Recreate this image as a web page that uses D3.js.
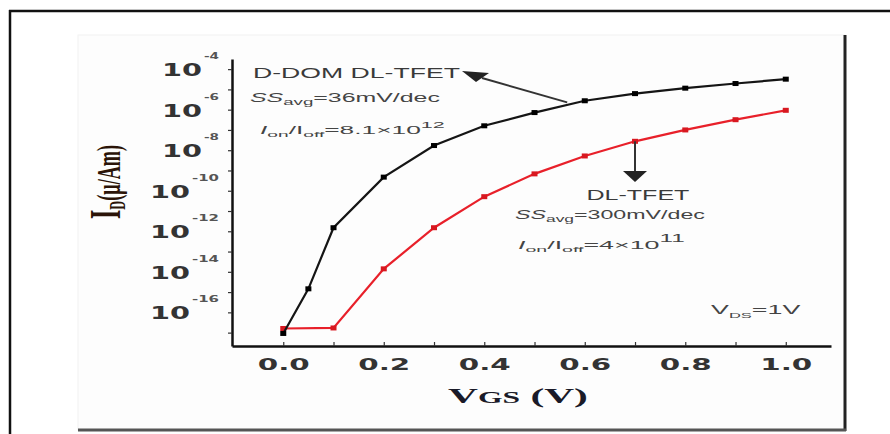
<!DOCTYPE html>
<html><head><meta charset="utf-8">
<script src="https://cdn.jsdelivr.net/npm/d3@7"></script>
<style>body{margin:0;background:#fff}svg{display:block}</style>
</head><body>
<svg id="chart" width="890" height="434"></svg>
<script>
// ---- data ----
const vgsBlack = [0, 0.05, 0.1, 0.2, 0.3, 0.4, 0.5, 0.6, 0.7, 0.8, 0.9, 1.0];
const idBlack  = [9.1e-18, 1.45e-15, 1.5e-12, 4.7e-10, 1.7e-8, 1.6e-7, 7.2e-7, 2.75e-6, 6.2e-6, 1.15e-5, 1.95e-5, 3.2e-5];
const vgsRed   = [0, 0.1, 0.2, 0.3, 0.4, 0.5, 0.6, 0.7, 0.8, 0.9, 1.0];
const idRed    = [1.6e-17, 1.7e-17, 1.4e-14, 1.5e-12, 5.1e-11, 6.8e-10, 5.2e-9, 2.75e-8, 1.0e-7, 3.2e-7, 9.3e-7];
const xTickValues = [0, 0.1, 0.2, 0.3, 0.4, 0.5, 0.6, 0.7, 0.8, 0.9, 1.0];
const xTickLabels = ["0.0", "", "0.2", "", "0.4", "", "0.6", "", "0.8", "", "1.0"];
const yLabelExponents = [-4, -6, -8, -10, -12, -14, -16];
const yTickExponents = [-4, -5, -6, -7, -8, -9, -10, -11, -12, -13, -14, -15, -16, -17];

const svg = d3.select("#chart");

// frame
svg.append("rect").attr("x", 78).attr("y", 35).attr("width", 767).attr("height", 395)
  .attr("fill", "#fdfdfd").attr("stroke", "#f2f2f2");
svg.append("line").attr("x1", 9).attr("x2", 890).attr("y1", 11).attr("y2", 11)
  .attr("stroke", "#111").attr("stroke-width", 2.5);
svg.append("line").attr("x1", 10).attr("x2", 10).attr("y1", 10).attr("y2", 434)
  .attr("stroke", "#111").attr("stroke-width", 2.5);
svg.append("line").attr("x1", 845).attr("x2", 845).attr("y1", 35).attr("y2", 431)
  .attr("stroke", "#222").attr("stroke-width", 3);
svg.append("line").attr("x1", 78).attr("x2", 846).attr("y1", 430).attr("y2", 430)
  .attr("stroke", "#555").attr("stroke-width", 3);

// scales
const x = d3.scaleLinear().domain([-0.102, 1.09]).range([232, 831]);
const y = d3.scaleLog().domain([Math.pow(10, -17.66), Math.pow(10, -3.5)]).range([346, 59]);

// x axis
const gx = svg.append("g").attr("transform", "translate(0,346)")
  .call(d3.axisBottom(x).tickValues(xTickValues).tickSizeInner(-4).tickSizeOuter(0)
    .tickFormat((d, i) => xTickLabels[i]));
gx.select(".domain").attr("stroke", "#111").attr("stroke-width", 2.5);
gx.selectAll(".tick line").attr("stroke", "#333").attr("stroke-width", 1.2);
gx.selectAll(".tick text")
  .attr("font-family", "DejaVu Sans").attr("font-weight", "bold").attr("font-size", 15)
  .attr("fill", "#333").attr("y", 13)
  .filter(function () { return this.textContent !== ""; })
  .attr("textLength", 52).attr("lengthAdjust", "spacingAndGlyphs");

// y axis
const gy = svg.append("g").attr("transform", "translate(232,0)")
  .call(d3.axisLeft(y).tickValues(yTickExponents.map(e => Math.pow(10, e)))
    .tickSizeInner(4).tickSizeOuter(0).tickFormat(""));
gy.select(".domain").attr("stroke", "#111").attr("stroke-width", 2.5);
gy.selectAll(".tick line").attr("stroke", "#333").attr("stroke-width", 1.2);

// y tick labels: 10^e
const yl = svg.append("g");
yLabelExponents.forEach(e => {
  const yy = y(Math.pow(10, e));
  const supW = e <= -10 ? 27 : 15;
  yl.append("text").attr("x", 219).attr("y", yy - 10)
    .attr("text-anchor", "end").attr("font-family", "DejaVu Sans").attr("font-weight", "bold")
    .attr("font-size", 9).attr("fill", "#555").text("-" + (-e))
    .attr("textLength", supW).attr("lengthAdjust", "spacingAndGlyphs");
  yl.append("text").attr("x", 219 - supW - 2).attr("y", yy + 7)
    .attr("text-anchor", "end").attr("font-family", "DejaVu Sans").attr("font-weight", "bold")
    .attr("font-size", 18).attr("fill", "#333").text("10")
    .attr("textLength", 40).attr("lengthAdjust", "spacingAndGlyphs");
});

// lines
const line = d3.line().x(d => x(d[0])).y(d => y(d[1]));
const blackPts = vgsBlack.map((v, i) => [v, idBlack[i]]);
const redPts = vgsRed.map((v, i) => [v, idRed[i]]);
svg.append("path").datum(redPts).attr("d", line).attr("fill", "none")
  .attr("stroke", "#e8202a").attr("stroke-width", 2.2);
svg.selectAll(".mr").data(redPts).join("rect").attr("class", "mr")
  .attr("x", d => x(d[0]) - 3).attr("y", d => y(d[1]) - 2.5).attr("width", 6).attr("height", 5)
  .attr("fill", "#d81820");
svg.append("path").datum(blackPts).attr("d", line).attr("fill", "none")
  .attr("stroke", "#151515").attr("stroke-width", 2.2);
svg.selectAll(".mb").data(blackPts).join("rect").attr("class", "mb")
  .attr("x", d => x(d[0]) - 3).attr("y", d => y(d[1]) - 2.5).attr("width", 6).attr("height", 5)
  .attr("fill", "#000");

// helper: rich text fitted to width
function rich(parts, x0, base, width, anchor, opts) {
  opts = opts || {};
  const g = svg.append("g");
  const t = g.append("text").attr("x", 0).attr("y", 0)
    .attr("font-family", opts.family || "Liberation Sans")
    .attr("font-weight", opts.weight || "normal")
    .attr("font-size", opts.size || 13).attr("fill", opts.fill || "#444");
  let prev = 0;
  parts.forEach(p => {
    const sh = p.shift || 0;
    const ts = t.append("tspan").attr("dy", sh - prev).text(p.t);
    if (p.size) ts.attr("font-size", p.size);
    if (p.italic) ts.attr("font-style", "italic");
    prev = sh;
  });
  const w = t.node().getBBox().width;
  const s = width / w;
  const tx = anchor === "middle" ? x0 - width / 2 : x0;
  g.attr("transform", `translate(${tx},${base}) scale(${s},1)`);
  return g;
}

rich([{t: "D-DOM DL-TFET"}], 253, 78, 208, "start", {size: 14, fill: "#3a3a3a"});
rich([{t: "SS", italic: true}, {t: "avg", size: 9, shift: 3}, {t: "=36mV/dec"}], 250, 102, 190, "start", {size: 12});
rich([{t: "I", italic: true}, {t: "on", size: 8, shift: 3}, {t: "/I"}, {t: "off", size: 8, shift: 3},
      {t: "=8.1×10"}, {t: "12", size: 9, shift: -6}], 260, 134, 185, "start", {size: 11});
rich([{t: "DL-TFET"}], 638, 200, 103, "middle", {size: 15, fill: "#3a3a3a"});
rich([{t: "SS", italic: true}, {t: "avg", size: 9, shift: 3}, {t: "=300mV/dec"}], 515, 219, 190, "start", {size: 12});
rich([{t: "I", italic: true}, {t: "on", size: 8, shift: 3}, {t: "/I"}, {t: "off", size: 8, shift: 3},
      {t: "=4×10"}, {t: "11", size: 10, shift: -7}], 518, 249, 168, "start", {size: 11});
rich([{t: "V"}, {t: "DS", size: 8, shift: 4}, {t: "=1V"}], 711, 314, 90, "start", {size: 13});

// arrows
const tailB = [x(0.565), y(2.3e-6)];
svg.append("line").attr("x1", tailB[0]).attr("y1", tailB[1]).attr("x2", 482).attr("y2", 78)
  .attr("stroke", "#333").attr("stroke-width", 2);
svg.append("polygon").attr("points", "462,71 489,73 476,82").attr("fill", "#222");

const tailR = [x(0.7), y(idRed[7])];
svg.append("line").attr("x1", tailR[0]).attr("y1", tailR[1]).attr("x2", tailR[0]).attr("y2", 172)
  .attr("stroke", "#333").attr("stroke-width", 2);
svg.append("polygon")
  .attr("points", `${tailR[0] - 12},171 ${tailR[0] + 12},171 ${tailR[0]},182`).attr("fill", "#222");

// axis titles
rich([{t: "V", size: 21}, {t: "GS", size: 16}, {t: " (V)", size: 21}], 518, 403, 140, "middle",
  {family: "Liberation Serif", weight: "bold", fill: "#1a1a28"});

// y title rotated
const gyt = svg.append("g");
const yt = gyt.append("text").attr("font-family", "Liberation Serif").attr("font-weight", "bold")
  .attr("fill", "#2b1408").attr("text-anchor", "start");
yt.append("tspan").attr("font-size", 25).text("I");
yt.append("tspan").attr("font-size", 13).attr("dy", 3).text("D");
yt.append("tspan").attr("font-size", 19).attr("dy", -3).text("(\u03bc/Am)");
const yw = yt.node().getBBox().width;
const ls = 74 / yw;
gyt.attr("transform", `translate(120,219) rotate(-90) scale(${ls},1.75)`);
</script>
</body></html>
